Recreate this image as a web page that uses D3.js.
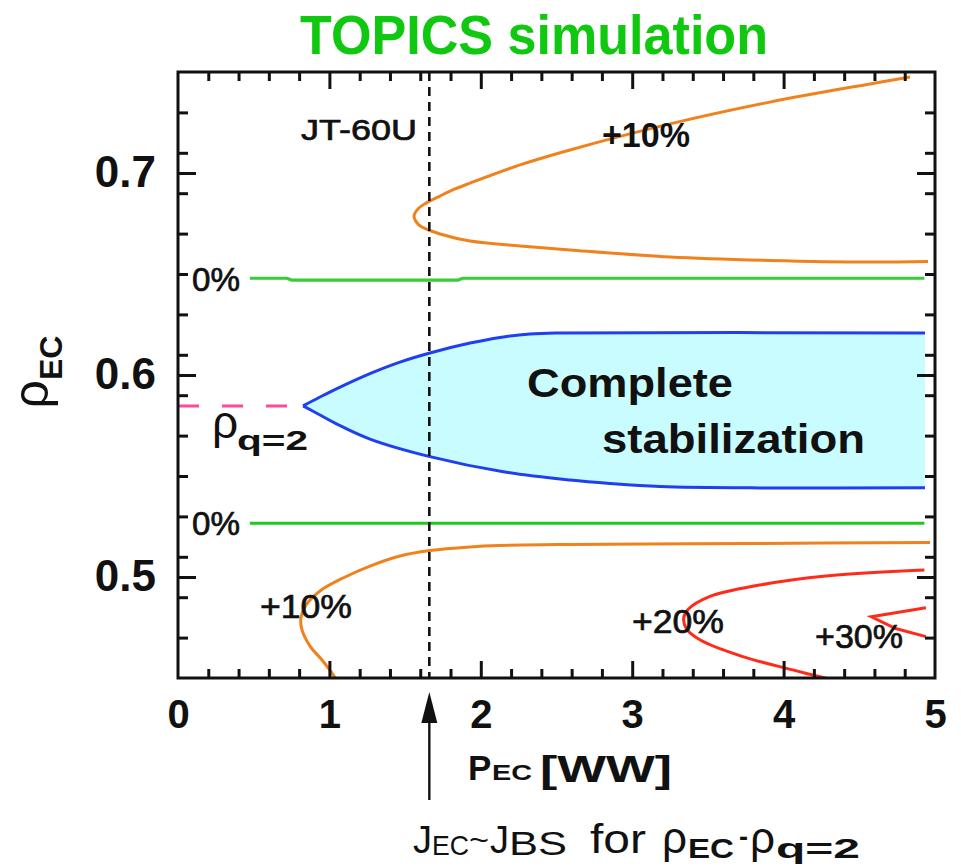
<!DOCTYPE html>
<html>
<head>
<meta charset="utf-8">
<script src="https://cdn.jsdelivr.net/npm/d3@7"></script>
<style>
  body { margin: 0; background: #fff; }
  svg { display: block; }
  text { font-family: "Liberation Sans", Arial, Helvetica, sans-serif; fill: #111; }
</style>
</head>
<body>
<svg id="chart" width="961" height="867"></svg>
<script>
// ---- data: EC deposition radius rho_EC versus EC power P_EC ----
const xTickValues = [0, 1, 2, 3, 4, 5];
const yTickValues = [0.5, 0.6, 0.7];
const xDomain = [0, 5];
const yDomain = [0.45, 0.75];

const jt60uPower = 1.66;      // JT-60U power level (J_EC ~ J_BS)
const rhoQ2 = 0.5847;         // q = 2 surface

// 0% contours
const zeroUpper = [[0.475, 0.6479], [0.72, 0.6479], [0.75, 0.6470], [1.85, 0.6470], [1.88, 0.6479], [4.93, 0.6479]];
const zeroLower = [[0.475, 0.5266], [4.93, 0.5266]];

// +10% contour above the q=2 surface (upper branch, nose, lower branch)
const plus10Upper = [
  [4.835, 0.7475], [4.571, 0.7441], [3.910, 0.7351], [3.250, 0.7243], [2.589, 0.7114], [2.259, 0.7040],
  [1.929, 0.6950], [1.830, 0.6921], [1.731, 0.6886], [1.638, 0.6851], [1.585, 0.6822], [1.559, 0.6787],
  [1.585, 0.6748], [1.638, 0.6723], [1.731, 0.6698], [1.929, 0.6663], [2.259, 0.6639], [2.589, 0.6619],
  [3.250, 0.6584], [3.910, 0.6567], [4.571, 0.6559], [4.954, 0.6562]
];

// +10% contour below the q=2 surface
const plus10Lower = [
  [4.967, 0.5171], [3.778, 0.5166], [2.589, 0.5161], [2.127, 0.5156], [1.929, 0.5149], [1.664, 0.5131],
  [1.466, 0.5104], [1.268, 0.5054], [1.090, 0.4995], [0.938, 0.4931], [0.845, 0.4861], [0.812, 0.4797],
  [0.819, 0.4738], [0.872, 0.4658], [0.951, 0.4589], [1.030, 0.4510], [1.050, 0.4485]
];

// +20% and +30% contours
const plus20 = [
  [4.93, 0.5035], [4.28, 0.5005], [3.84, 0.4960], [3.51, 0.4903], [3.37, 0.4840], [3.34, 0.4796],
  [3.36, 0.4742], [3.45, 0.4688], [3.73, 0.4606], [4.06, 0.4540], [4.30, 0.4495]
];
const plus30 = [[4.94, 0.4848], [4.58, 0.4803], [4.74, 0.4745], [4.94, 0.4705]];

// complete stabilization region: upper and lower boundaries leaving the cusp at rho_q=2
const stableUpper = [
  [0.826, 0.5847], [0.938, 0.5891], [1.050, 0.5933], [1.268, 0.6007], [1.466, 0.6064], [1.664, 0.6109],
  [1.929, 0.6158], [2.127, 0.6186], [2.325, 0.6203], [2.523, 0.6208], [4.934, 0.6208]
];
const stableLower = [
  [0.826, 0.5847], [0.938, 0.5802], [1.050, 0.5757], [1.268, 0.5683], [1.664, 0.5596], [2.149, 0.5521],
  [2.589, 0.5480], [2.853, 0.5463], [3.184, 0.5448], [3.844, 0.5441], [4.934, 0.5442]
];

// q=2 reference marker
const rhoQ2Marker = [[0, rhoQ2], [0.72, rhoQ2]];

// ---- colours ----
const COL = {
  orange: "#f0821e",
  red: "#ff2b1a",
  blue: "#1f3ff0",
  fill: "#c8fcff",
  green: "#1ec81e",
  greenDot: "#38cc38",
  pink: "#ff4a9a",
  title: "#10c810"
};

const svg = d3.select("#chart");
const plot = { left: 178, right: 935, top: 72, bottom: 678 };

const x = d3.scaleLinear().domain(xDomain).range([plot.left, plot.right]);
const y = d3.scaleLinear().domain(yDomain).range([plot.bottom, plot.top]);

svg.append("defs").append("clipPath").attr("id", "plotClip")
  .append("rect")
  .attr("x", plot.left).attr("y", plot.top)
  .attr("width", plot.right - plot.left).attr("height", plot.bottom - plot.top);

const smooth = d3.line().x(d => x(d[0])).y(d => y(d[1])).curve(d3.curveCatmullRom.alpha(0.5));
const straight = d3.line().x(d => x(d[0])).y(d => y(d[1]));

const g = svg.append("g").attr("clip-path", "url(#plotClip)");

// stabilization region fill
const fillPath = smooth(stableUpper) + smooth(stableLower.slice().reverse()).replace(/^M/, "L") + "Z";
g.append("path").attr("d", fillPath).attr("fill", COL.fill).attr("stroke", "none");

// region boundaries
[stableUpper, stableLower].forEach(b => {
  g.append("path").attr("d", smooth(b)).attr("fill", "none")
    .attr("stroke", COL.blue).attr("stroke-width", 3);
});

// 0% contours
g.append("path").attr("d", straight(zeroUpper)).attr("fill", "none")
  .attr("stroke", COL.greenDot).attr("stroke-width", 3.2);
g.append("path").attr("d", straight(zeroLower)).attr("fill", "none")
  .attr("stroke", COL.green).attr("stroke-width", 3);

// +10 / +20 / +30 % contours
g.append("path").attr("d", smooth(plus10Upper)).attr("fill", "none")
  .attr("stroke", COL.orange).attr("stroke-width", 3);
g.append("path").attr("d", smooth(plus10Lower)).attr("fill", "none")
  .attr("stroke", COL.orange).attr("stroke-width", 3);
g.append("path").attr("d", smooth(plus20)).attr("fill", "none")
  .attr("stroke", COL.red).attr("stroke-width", 3);
g.append("path").attr("d", straight(plus30)).attr("fill", "none")
  .attr("stroke", COL.red).attr("stroke-width", 3);

// q=2 dashed marker
g.append("path").attr("d", straight(rhoQ2Marker)).attr("fill", "none")
  .attr("stroke", COL.pink).attr("stroke-width", 3).attr("stroke-dasharray", "21,23");

// JT-60U power level
g.append("line")
  .attr("x1", x(jt60uPower)).attr("x2", x(jt60uPower))
  .attr("y1", y(yDomain[1])).attr("y2", y(yDomain[0]))
  .attr("stroke", "#111").attr("stroke-width", 2.6).attr("stroke-dasharray", "9,6");

// ---- axes ----
const xMinor = d3.range(1, 25).map(i => i * 0.2).filter(v => Math.abs(v - Math.round(v)) > 1e-6);
const yMinor = d3.range(1, 15).map(i => 0.45 + i * 0.02).filter(v => Math.abs(v * 10 - Math.round(v * 10)) > 1e-6);
const xMajorInner = [1, 2, 3, 4];

function styleTicks(sel) {
  sel.select(".domain").remove();
  sel.selectAll(".tick line").attr("stroke", "#111").attr("stroke-width", 3);
}

const axes = [
  { fn: d3.axisBottom, s: x, t: `translate(0,${plot.bottom})`, major: xMajorInner, minor: xMinor, ml: 17, nl: 9 },
  { fn: d3.axisTop, s: x, t: `translate(0,${plot.top})`, major: xMajorInner, minor: xMinor, ml: 17, nl: 9 },
  { fn: d3.axisLeft, s: y, t: `translate(${plot.left},0)`, major: yTickValues, minor: yMinor, ml: 18, nl: 10 },
  { fn: d3.axisRight, s: y, t: `translate(${plot.right},0)`, major: yTickValues, minor: yMinor, ml: 18, nl: 10 }
];
axes.forEach(a => {
  svg.append("g").attr("transform", a.t)
    .call(a.fn(a.s).tickValues(a.minor).tickSize(-a.nl).tickFormat(""))
    .call(styleTicks);
  svg.append("g").attr("transform", a.t)
    .call(a.fn(a.s).tickValues(a.major).tickSize(-a.ml).tickFormat(""))
    .call(styleTicks);
});

// frame
svg.append("rect")
  .attr("x", plot.left).attr("y", plot.top)
  .attr("width", plot.right - plot.left).attr("height", plot.bottom - plot.top)
  .attr("fill", "none").attr("stroke", "#111").attr("stroke-width", 3);

// tick labels
const xLab = svg.append("g").attr("transform", `translate(0,${plot.bottom})`)
  .call(d3.axisBottom(x).tickValues(xTickValues).tickSize(0).tickFormat(d3.format("d")));
xLab.select(".domain").remove();
xLab.selectAll("text").attr("y", 50).attr("dy", null)
  .style("font-size", "40px").style("font-weight", "bold").attr("fill", "#111");

const yLab = svg.append("g").attr("transform", `translate(${plot.left},0)`)
  .call(d3.axisLeft(y).tickValues(yTickValues).tickSize(0).tickPadding(22).tickFormat(d3.format(".1f")));
yLab.select(".domain").remove();
yLab.selectAll("text").attr("dy", "0.3em")
  .style("font-size", "44px").style("font-weight", "bold").attr("fill", "#111");

// ---- text ----
function label(txt, px, py, size, opts = {}) {
  const t = svg.append("text").attr("x", px).attr("y", py).text(txt)
    .style("font-size", size + "px")
    .style("font-weight", opts.weight || "bold");
  if (opts.len) t.attr("textLength", opts.len).attr("lengthAdjust", "spacingAndGlyphs");
  if (opts.anchor) t.attr("text-anchor", opts.anchor);
  if (opts.fill) t.style("fill", opts.fill);
  if (opts.medium) t.style("stroke", "#111").style("stroke-width", 0.7);
  return t;
}

// title
label("TOPICS simulation", 534, 54, 55, { anchor: "middle", len: 468, fill: COL.title });

// contour labels
label("JT-60U", 301, 140, 30, { len: 116, weight: "normal", medium: true });
label("+10%", 602, 147, 35, { len: 88 });
label("0%", 192, 291, 33, { len: 48, weight: "normal", medium: true });
label("0%", 192, 535, 33, { len: 48, weight: "normal", medium: true });
label("+10%", 260, 618, 34, { len: 92, weight: "normal", medium: true });
label("+20%", 632, 633, 34, { len: 92, weight: "normal", medium: true });
label("+30%", 815, 648, 34, { len: 88, weight: "normal", medium: true });
label("Complete", 527, 397, 40, { len: 206 });
label("stabilization", 602, 453, 40, { len: 263 });
label("ρ", 212, 438, 46, { weight: "normal" });
label("q=2", 237, 450, 28, { len: 71 });

// y axis title
const yTitle = svg.append("text")
  .attr("transform", `translate(48,372) rotate(-90)`)
  .attr("text-anchor", "middle");
yTitle.append("tspan").text("ρ").style("font-size", "50px");
yTitle.append("tspan").text("EC").attr("dy", 14).style("font-size", "32px").style("font-weight", "bold");

// x axis title
label("P", 468, 780, 35);
label("EC", 492, 780, 22, { len: 40 });
label("[WW]", 540, 782, 37, { len: 132 });

// arrow to the JT-60U power level
const ax = x(jt60uPower);
svg.append("line").attr("x1", ax).attr("x2", ax).attr("y1", 800).attr("y2", 715)
  .attr("stroke", "#111").attr("stroke-width", 2.4);
svg.append("path")
  .attr("d", `M${ax},692 L${ax - 8},723 L${ax + 8},723 Z`)
  .attr("fill", "#111");

// annotation under the arrow
label("J", 413, 853, 38, { weight: "normal" });
label("EC", 432, 855, 28, { weight: "normal", len: 37 });
label("~", 469, 850, 30, { weight: "normal", len: 20 });
label("J", 490, 853, 38, { weight: "normal" });
label("BS", 509, 855, 34, { weight: "normal", len: 58 });
label("for", 590, 853, 40, { weight: "normal", len: 56 });
label("ρ", 662, 853, 44, { weight: "normal" });
label("EC", 688, 858, 28, { len: 46 });
label("-", 739, 846, 28, { len: 9 });
label("ρ", 750, 853, 44, { weight: "normal" });
label("q=2", 776, 858, 28, { len: 84 });
</script>
</body>
</html>
